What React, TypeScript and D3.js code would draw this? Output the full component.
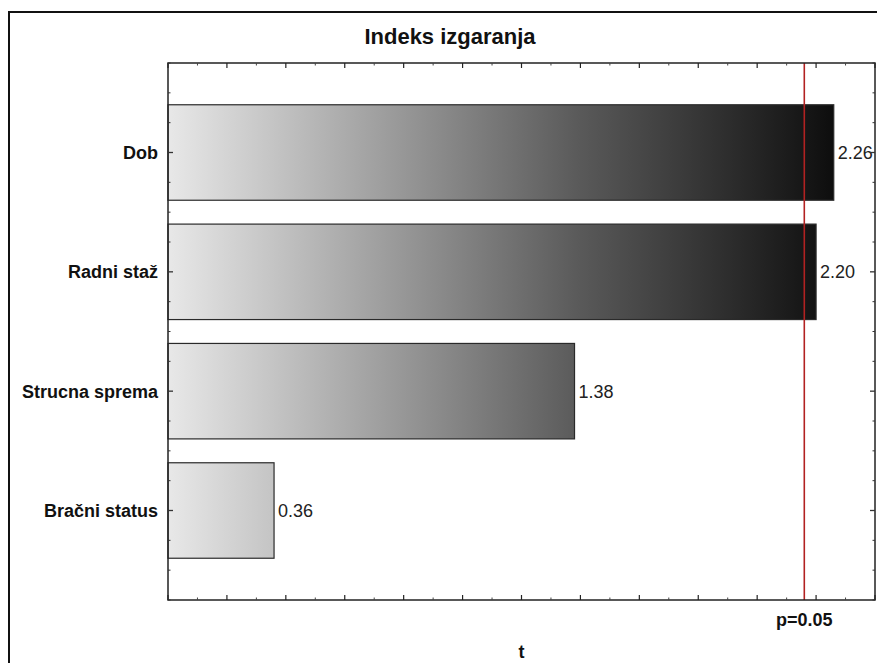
import React from "react";
import * as d3 from "d3";

const categories = ["Dob", "Radni staž", "Strucna sprema", "Bračni status"];
const tValues = [2.26, 2.2, 1.38, 0.36];
const valueLabels = ["2.26", "2.20", "1.38", "0.36"];
const criticalT = 2.16;
const criticalLabel = "p=0.05";
const title = "Indeks izgaranja";
const xTitle = "t";

const W = 877;
const H = 663;
const L = 168, R = 875, T = 63, B = 600;
const FONT = "'Liberation Sans', Arial, sans-serif";

export default function App() {
  const x = d3.scaleLinear().domain([0, 2.4]).range([L, R]);
  const y = d3.scaleLinear().domain([0.25, 4.75]).range([T, B]);
  const barH = y(1.8) - y(1);
  const xMajor = d3.range(0, 2.4001, 0.2);
  const xMinor = d3.range(0.1, 2.4, 0.2);
  const yTicks = d3.range(0.25, 4.7501, 0.25);

  return (
    <svg width={W} height={H} style={{ position: "absolute", left: 0, top: 0, display: "block", background: "#fff" }}>
      <defs>
        <linearGradient id="barGrad" gradientUnits="userSpaceOnUse" x1={L} y1={0} x2={R} y2={0}>
          <stop offset="0%" stopColor="#e8e8e8" />
          <stop offset="15%" stopColor="#c4c4c4" />
          <stop offset="58%" stopColor="#5a5a5a" />
          <stop offset="94%" stopColor="#0e0e0e" />
          <stop offset="100%" stopColor="#080808" />
        </linearGradient>
      </defs>
      {/* outer frame */}
      <rect x={9} y={12} width={W + 20} height={H + 20} fill="none" stroke="#111" strokeWidth={2} />
      {/* title */}
      <text x={450} y={44} textAnchor="middle" fontFamily={FONT} fontWeight="bold" fontSize={22} fill="#111">{title}</text>

      {/* bars */}
      {tValues.map((v, i) => (
        <g key={categories[i]}>
          <rect x={x(0)} y={y(i + 1) - barH / 2} width={x(v) - x(0)} height={barH}
            fill="url(#barGrad)" stroke="#2a2a2a" strokeWidth={1.2} />
          <text x={x(v) + 4} y={y(i + 1) + 6.5} fontFamily={FONT} fontSize={18} fill="#222">{valueLabels[i]}</text>
          <text x={158} y={y(i + 1) + 6.5} textAnchor="end" fontFamily={FONT} fontWeight="bold" fontSize={18} fill="#111">{categories[i]}</text>
        </g>
      ))}

      {/* critical line */}
      <line x1={x(criticalT)} x2={x(criticalT)} y1={T} y2={B} stroke="#b22222" strokeWidth={1.6} />

      {/* plot frame */}
      <rect x={L} y={T} width={R - L} height={B - T} fill="none" stroke="#222" strokeWidth={1.5} />

      {/* x ticks top and bottom */}
      {xMajor.map((t) => (
        <g key={"M" + t}>
          <line x1={x(t)} x2={x(t)} y1={T} y2={T + 5} stroke="#222" strokeWidth={1.2} />
          <line x1={x(t)} x2={x(t)} y1={B} y2={B - 5} stroke="#222" strokeWidth={1.2} />
        </g>
      ))}
      {xMinor.map((t) => (
        <g key={"m" + t}>
          <line x1={x(t)} x2={x(t)} y1={T} y2={T + 2.5} stroke="#444" strokeWidth={1} />
          <line x1={x(t)} x2={x(t)} y1={B} y2={B - 2.5} stroke="#444" strokeWidth={1} />
        </g>
      ))}
      {/* y ticks left and right */}
      {yTicks.map((t) => {
        const major = Math.abs(t - Math.round(t)) < 1e-6;
        const len = major ? 5 : 2.5;
        return (
          <g key={"y" + t}>
            <line x1={L} x2={L + len} y1={y(t)} y2={y(t)} stroke="#333" strokeWidth={major ? 1.3 : 1} />
            <line x1={R} x2={R - len} y1={y(t)} y2={y(t)} stroke="#333" strokeWidth={major ? 1.3 : 1} />
          </g>
        );
      })}

      <text x={x(criticalT)} y={626} textAnchor="middle" fontFamily={FONT} fontWeight="bold" fontSize={18} fill="#111">{criticalLabel}</text>
      <text x={(L + R) / 2} y={658} textAnchor="middle" fontFamily={FONT} fontWeight="bold" fontSize={18} fill="#111">{xTitle}</text>
    </svg>
  );
}
